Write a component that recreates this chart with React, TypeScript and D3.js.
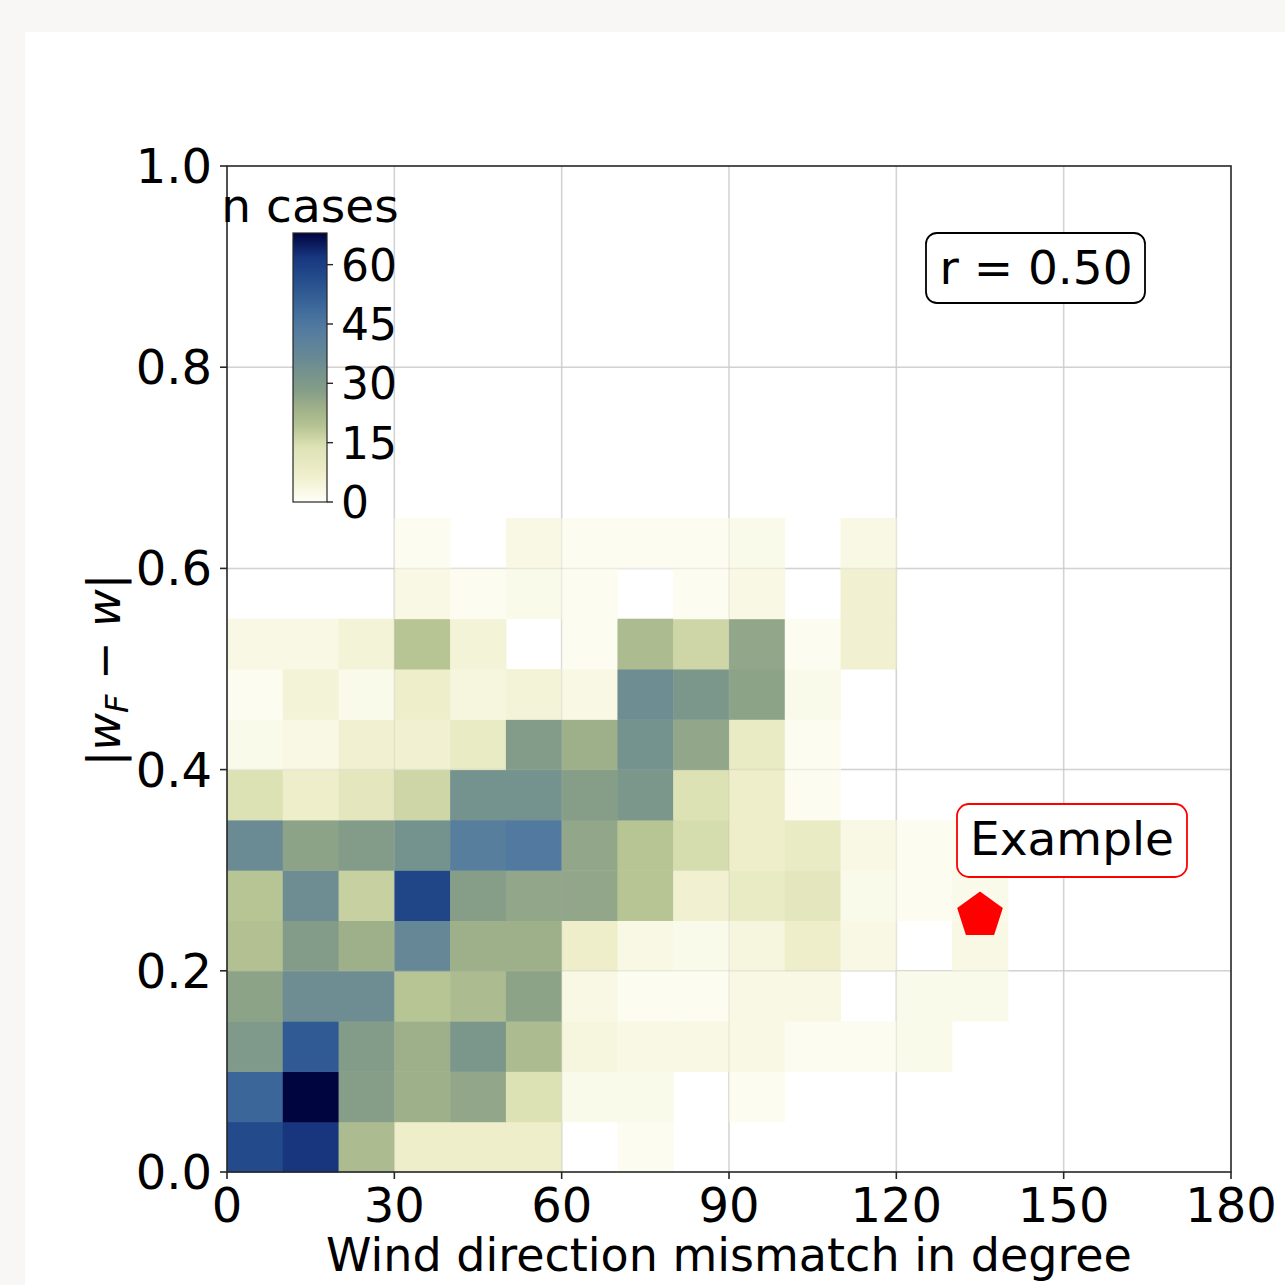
import React, { useEffect, useRef } from "react";
import * as d3 from "d3";

// bin edges
const xBinStarts = d3.range(0, 180, 10);
const yBinStarts = d3.range(0, 0.65, 0.05);

// counts per y bin (bottom -> top), one value per 10 degree x bin
const counts = [
  [57, 62, 21, 7, 7, 7, 0, 1, 0, 0, 0, 0, 0, 0, 0, 0, 0, 0],
  [50, 68, 28, 24, 26, 14, 2, 2, 0, 1, 0, 0, 0, 0, 0, 0, 0, 0],
  [30, 53, 29, 24, 31, 21, 4, 3, 3, 3, 1, 1, 2, 0, 0, 0, 0, 0],
  [27, 35, 35, 19, 21, 27, 3, 1, 1, 3, 3, 0, 2, 2, 0, 0, 0, 0],
  [20, 29, 24, 37, 24, 24, 7, 3, 2, 4, 7, 3, 0, 3, 0, 0, 0, 0],
  [19, 35, 17, 58, 28, 26, 26, 19, 6, 9, 11, 2, 1, 2, 0, 0, 0, 0],
  [36, 27, 29, 33, 42, 44, 26, 19, 15, 7, 9, 3, 1, 1, 0, 0, 0, 0],
  [14, 7, 11, 16, 33, 33, 28, 31, 14, 7, 1, 0, 0, 0, 0, 0, 0, 0],
  [2, 3, 6, 6, 9, 29, 24, 33, 26, 9, 1, 0, 0, 0, 0, 0, 0, 0],
  [1, 5, 2, 7, 4, 5, 3, 35, 31, 27, 2, 0, 0, 0, 0, 0, 0, 0],
  [3, 3, 5, 19, 5, 0, 1, 21, 16, 26, 1, 6, 0, 0, 0, 0, 0, 0],
  [0, 0, 0, 3, 1, 2, 1, 0, 1, 3, 0, 6, 0, 0, 0, 0, 0, 0],
  [0, 0, 0, 1, 0, 3, 1, 1, 1, 2, 0, 3, 0, 0, 0, 0, 0, 0],
];

const xTicks = [0, 30, 60, 90, 120, 150, 180];
const yTicks = [0, 0.2, 0.4, 0.6, 0.8, 1.0];
const cbTicks = [0, 15, 30, 45, 60];
const cbMax = 68;

// colormap stops
const cmapDomain = [0, 3, 7, 14, 19, 24, 28, 33, 37, 44, 50, 57, 62, 68];
const cmapColors = [
  "#fefef8", "#f8f8e4", "#eeeecb", "#dde2b5", "#b7c494", "#9db089", "#869e88",
  "#74928e", "#668896", "#527aa0", "#3a6699", "#234a8a", "#17367e", "#00043f",
];

const corrText = "r = 0.50";
const exampleDeg = 135;
const exampleVal = 0.255;

const FONT = "DejaVu Sans";

const App = () => {
  const svgRef = useRef(null);

  useEffect(() => {
    const W = 1285;
    const H = 1285;
    const svg = d3.select(svgRef.current);
    svg.selectAll("*").remove();
    svg.attr("width", W).attr("height", H);

    // page + card
    svg.append("rect").attr("width", W).attr("height", H).attr("fill", "#f8f7f5");
    svg.append("rect").attr("x", 25).attr("y", 32).attr("width", W - 25).attr("height", H - 32).attr("fill", "#ffffff");

    const x = d3.scaleLinear().domain([0, 180]).range([227, 1231]);
    const y = d3.scaleLinear().domain([0, 1]).range([1172, 166]);
    const color = d3.scaleLinear().domain(cmapDomain).range(cmapColors).interpolate(d3.interpolateRgb).clamp(true);

    //grid (under)
    const grid = (g, op, col) => {
      g.selectAll(".vg").data(xTicks.slice(1, -1)).join("line")
        .attr("x1", (d) => x(d)).attr("x2", (d) => x(d))
        .attr("y1", y(0)).attr("y2", y(1))
        .attr("stroke", col).attr("stroke-width", 1.5).attr("opacity", op);
      g.selectAll(".hg").data(yTicks.slice(1, -1)).join("line")
        .attr("y1", (d) => y(d)).attr("y2", (d) => y(d))
        .attr("x1", x(0)).attr("x2", x(180))
        .attr("stroke", col).attr("stroke-width", 1.5).attr("opacity", op);
    };
    svg.append("g").call((g) => grid(g, 1, "#dcdcdc"));

    // cells
    const cells = [];
    counts.forEach((row, i) => {
      row.forEach((v, j) => {
        if (v > 0) cells.push({ x0: xBinStarts[j], y0: yBinStarts[i], v });
      });
    });
    svg.append("g").selectAll("rect").data(cells).join("rect")
      .attr("x", (d) => x(d.x0))
      .attr("y", (d) => y(d.y0 + 0.05))
      .attr("width", (d) => x(d.x0 + 10) - x(d.x0) + 0.5)
      .attr("height", (d) => y(d.y0) - y(d.y0 + 0.05) + 0.5)
      .attr("fill", (d) => color(d.v));

    // grid shows faintly through the cells
    svg.append("g").call((g) => grid(g, 0.2, "#b0b0b0"));

    // spines
    svg.append("rect")
      .attr("x", x(0)).attr("y", y(1))
      .attr("width", x(180) - x(0)).attr("height", y(0) - y(1))
      .attr("fill", "none").attr("stroke", "#262626").attr("stroke-width", 1.6);

    // x axis
    const xAxis = svg.append("g");
    xAxis.selectAll("line").data(xTicks).join("line")
      .attr("x1", (d) => x(d)).attr("x2", (d) => x(d))
      .attr("y1", y(0)).attr("y2", y(0) + 7)
      .attr("stroke", "#262626").attr("stroke-width", 1.6);
    xAxis.selectAll("text").data(xTicks).join("text")
      .attr("x", (d) => x(d)).attr("y", 1222)
      .attr("text-anchor", "middle")
      .attr("font-family", FONT).attr("font-size", 48)
      .text((d) => d);
    svg.append("text")
      .attr("x", (x(0) + x(180)) / 2).attr("y", 1271)
      .attr("text-anchor", "middle")
      .attr("font-family", FONT).attr("font-size", 46)
      .text("Wind direction mismatch in degree");

    // y axis
    const yAxis = svg.append("g");
    yAxis.selectAll("line").data(yTicks).join("line")
      .attr("x1", x(0) - 7).attr("x2", x(0))
      .attr("y1", (d) => y(d)).attr("y2", (d) => y(d))
      .attr("stroke", "#262626").attr("stroke-width", 1.6);
    yAxis.selectAll("text").data(yTicks).join("text")
      .attr("x", 212).attr("y", (d) => y(d) + 17)
      .attr("text-anchor", "end")
      .attr("font-family", FONT).attr("font-size", 48)
      .text((d) => d3.format(".1f")(d));

    const yl = svg.append("text")
      .attr("transform", "translate(120,670) rotate(-90)")
      .attr("text-anchor", "middle")
      .attr("font-family", FONT).attr("font-size", 46);
    yl.append("tspan").text("|");
    yl.append("tspan").attr("font-style", "italic").text("w");
    yl.append("tspan").attr("font-style", "italic").attr("font-size", 32).attr("dy", 8).text("F");
    yl.append("tspan").attr("dy", -8).text(" \u2212 ");
    yl.append("tspan").attr("font-style", "italic").text("w");
    yl.append("tspan").text("|");

    // colorbar
    const cbX = 293;
    const cbW = 34;
    const cb = d3.scaleLinear().domain([0, cbMax]).range([502, 233]);
    const defs = svg.append("defs");
    const grad = defs.append("linearGradient").attr("id", "cbgrad")
      .attr("x1", 0).attr("y1", 1).attr("x2", 0).attr("y2", 0);
    cmapDomain.forEach((d, i) => {
      grad.append("stop").attr("offset", d / cbMax).attr("stop-color", cmapColors[i]);
    });
    svg.append("rect")
      .attr("x", cbX).attr("y", cb(cbMax))
      .attr("width", cbW).attr("height", cb(0) - cb(cbMax))
      .attr("fill", "url(#cbgrad)")
      .attr("stroke", "#262626").attr("stroke-width", 1.2);
    const cbAxis = svg.append("g");
    cbAxis.selectAll("line").data(cbTicks).join("line")
      .attr("x1", cbX + cbW).attr("x2", cbX + cbW + 6)
      .attr("y1", (d) => cb(d)).attr("y2", (d) => cb(d))
      .attr("stroke", "#262626").attr("stroke-width", 1.4);
    cbAxis.selectAll("text").data(cbTicks).join("text")
      .attr("x", 341).attr("y", (d) => cb(d) + 16)
      .attr("font-family", FONT).attr("font-size", 44)
      .text((d) => d);
    svg.append("text")
      .attr("x", cbX + cbW / 2).attr("y", 222)
      .attr("text-anchor", "middle")
      .attr("font-family", FONT).attr("font-size", 47)
      .text("n cases");

    // correlation box
    svg.append("rect")
      .attr("x", 926).attr("y", 233).attr("width", 219).attr("height", 70)
      .attr("rx", 11).attr("fill", "#fff").attr("stroke", "#000").attr("stroke-width", 1.8);
    svg.append("text")
      .attr("x", 1036).attr("y", 284)
      .attr("text-anchor", "middle")
      .attr("font-family", FONT).attr("font-size", 47)
      .text(corrText);

    // example marker
    const cx = x(exampleDeg);
    const cy = y(exampleVal);
    const r = 24;
    const pts = d3.range(5).map((k) => {
      const a = -Math.PI / 2 + (k * 2 * Math.PI) / 5;
      return [cx + r * Math.cos(a), cy + r * Math.sin(a)];
    });
    svg.append("path")
      .attr("d", d3.line()(pts) + "Z")
      .attr("fill", "#ff0000");

    svg.append("rect")
      .attr("x", 957).attr("y", 804).attr("width", 230).attr("height", 73)
      .attr("rx", 12).attr("fill", "#fff").attr("stroke", "#ff0000").attr("stroke-width", 1.8);
    svg.append("text")
      .attr("x", 1072).attr("y", 855)
      .attr("text-anchor", "middle")
      .attr("font-family", FONT).attr("font-size", 47)
      .text("Example");
  }, []);

  return (
    <div style={{ position: "absolute", left: 0, top: 0 }}>
      <svg ref={svgRef} style={{ display: "block" }} />
    </div>
  );
};

export default App;
